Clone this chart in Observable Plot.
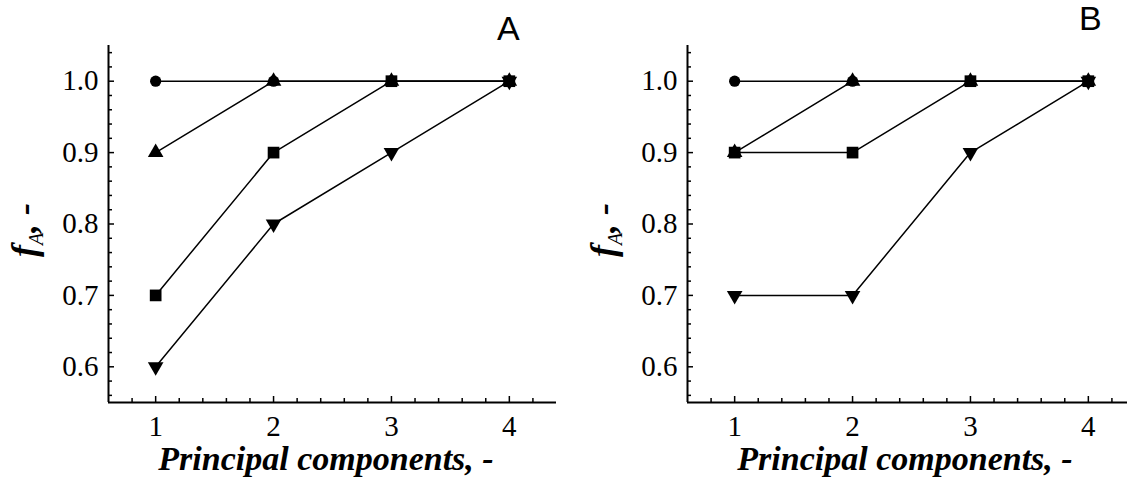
<!DOCTYPE html>
<html>
<head>
<meta charset="utf-8">
<script src="https://cdn.jsdelivr.net/npm/d3@7"></script>
<script src="https://cdn.jsdelivr.net/npm/@observablehq/plot@0.6"></script>
<style>
  html, body { margin: 0; padding: 0; background: #fff; }
  #wrap { position: relative; width: 1127px; height: 484px; overflow: hidden; background: #fff; }
  #wrap svg { position: absolute; top: 0; overflow: visible; }
  .panel-label { position: absolute; font-family: "Liberation Sans", Arial, sans-serif; font-size: 34px; color: #000; line-height: 1; }
</style>
</head>
<body>
<div id="wrap"></div>
<script>
// ---- data ----
const components = [1, 2, 3, 4];
const seriesNames = ["circle", "square", "triangleDown", "triangleUp"];

// Panel A
const A_circle       = [1.0, 1.0, 1.0, 1.0];
const A_square       = [0.7, 0.9, 1.0, 1.0];
const A_triangleDown = [0.6, 0.8, 0.9, 1.0];
const A_triangleUp   = [0.9, 1.0, 1.0, 1.0];

// Panel B
const B_circle       = [1.0, 1.0, 1.0, 1.0];
const B_square       = [0.9, 0.9, 1.0, 1.0];
const B_triangleDown = [0.7, 0.7, 0.9, 1.0];
const B_triangleUp   = [0.9, 1.0, 1.0, 1.0];

const xMajorTicks = [1, 2, 3, 4];
const xMinorTicks = [0.8, 1.2, 1.4, 1.6, 1.8, 2.2, 2.4, 2.6, 2.8, 3.2, 3.4, 3.6, 3.8, 4.2];
const yMajorTicks = [0.6, 0.7, 0.8, 0.9, 1.0];
const yMinorTicks = [0.56, 0.58, 0.62, 0.64, 0.66, 0.68, 0.72, 0.74, 0.76, 0.78, 0.82, 0.84, 0.86, 0.88, 0.92, 0.94, 0.96, 0.98, 1.02, 1.04];
const xDomain = [0.6, 4.4];
const yDomain = [0.55, 1.05];
const xLabel = "Principal components, -";
const panelLabels = ["A", "B"];

// ---- styling ----
const symbolStyle = {
  circle:       {symbol: "circle",   r: 5.6, rotate: 0},
  square:       {symbol: "square",   r: 6.6, rotate: 0},
  triangleDown: {symbol: "triangle", r: 5.8, rotate: 180},
  triangleUp:   {symbol: "triangle", r: 5.8, rotate: 0}
};
const serif = '"Liberation Serif", "Times New Roman", Times, "DejaVu Serif", serif';

function rowsFor(arrays) {
  const rows = [];
  seriesNames.forEach((name, i) => {
    arrays[i].forEach((v, j) => rows.push({series: name, x: components[j], y: v}));
  });
  return rows;
}

function makePanel(arrays) {
  const rows = rowsFor(arrays);
  const marks = [
    Plot.ruleX([xDomain[0]], {stroke: "#000", strokeWidth: 2}),
    Plot.ruleY([yDomain[0]], {stroke: "#000", strokeWidth: 2}),
    Plot.axisX({ticks: xMajorTicks, tickSize: -6, strokeWidth: 1.5, text: null, label: null}),
    Plot.axisX({ticks: xMinorTicks, tickSize: -4, strokeWidth: 1.5, text: null, label: null}),
    Plot.axisY({ticks: yMajorTicks, tickSize: -6, strokeWidth: 1.5, text: null, label: null}),
    Plot.axisY({ticks: yMinorTicks, tickSize: -4, strokeWidth: 1.5, text: null, label: null}),
    Plot.axisX({ticks: xMajorTicks, tickSize: 0, tickPadding: 13, tickFormat: d3.format("d"), label: null}),
    Plot.axisY({ticks: yMajorTicks, tickSize: 0, tickPadding: 10, tickFormat: d3.format(".1f"), label: null}),
    Plot.line(rows, {x: "x", y: "y", z: "series", stroke: "#000", strokeWidth: 1.5})
  ];
  seriesNames.forEach(name => {
    const s = symbolStyle[name];
    marks.push(Plot.dot(rows.filter(d => d.series === name),
      {x: "x", y: "y", symbol: () => s.symbol, r: s.r, rotate: s.rotate, fill: "#000", stroke: "none"}));
  });
  const svg = Plot.plot({
    width: 564,
    height: 484,
    marginLeft: 108,
    marginRight: 8,
    marginTop: 45,
    marginBottom: 82,
    x: {domain: xDomain},
    y: {domain: yDomain},
    symbol: {type: "identity"},
    style: {background: "transparent", color: "#000", fontFamily: serif, fontSize: "29px"},
    marks
  });
  const sel = d3.select(svg);
  sel.selectAll("text")
    .style("font-family", serif)
    .style("font-size", "29px")
    .attr("fill", "#000");
  // x-axis title
  sel.append("text")
    .attr("x", 108 + 448 / 2 - 6)
    .attr("y", 470)
    .attr("text-anchor", "middle")
    .style("font-family", serif)
    .style("font-size", "34px")
    .style("font-weight", "bold")
    .style("font-style", "italic")
    .attr("fill", "#000")
    .text(xLabel);
  // y-axis title with subscript
  const yt = sel.append("text")
    .attr("transform", "translate(36,230) rotate(-90)")
    .attr("text-anchor", "middle")
    .style("font-family", serif)
    .style("font-size", "36px")
    .style("font-weight", "bold")
    .style("font-style", "italic")
    .attr("fill", "#000");
  yt.append("tspan").text("f");
  yt.append("tspan").style("font-size", "20px").style("font-weight", "normal").attr("dy", 7).text("A");
  yt.append("tspan").attr("dy", -7).text(", -");
  return svg;
}

const wrap = document.getElementById("wrap");
const svgA = makePanel([A_circle, A_square, A_triangleDown, A_triangleUp]);
svgA.style.left = "0px";
wrap.appendChild(svgA);
const svgB = makePanel([B_circle, B_square, B_triangleDown, B_triangleUp]);
svgB.style.left = "579px";
wrap.appendChild(svgB);

const la = document.createElement("div");
la.className = "panel-label"; la.textContent = panelLabels[0];
la.style.left = "497px"; la.style.top = "11px";
wrap.appendChild(la);
const lb = document.createElement("div");
lb.className = "panel-label"; lb.textContent = panelLabels[1];
lb.style.left = "1079px"; lb.style.top = "1px";
wrap.appendChild(lb);
</script>
</body>
</html>
